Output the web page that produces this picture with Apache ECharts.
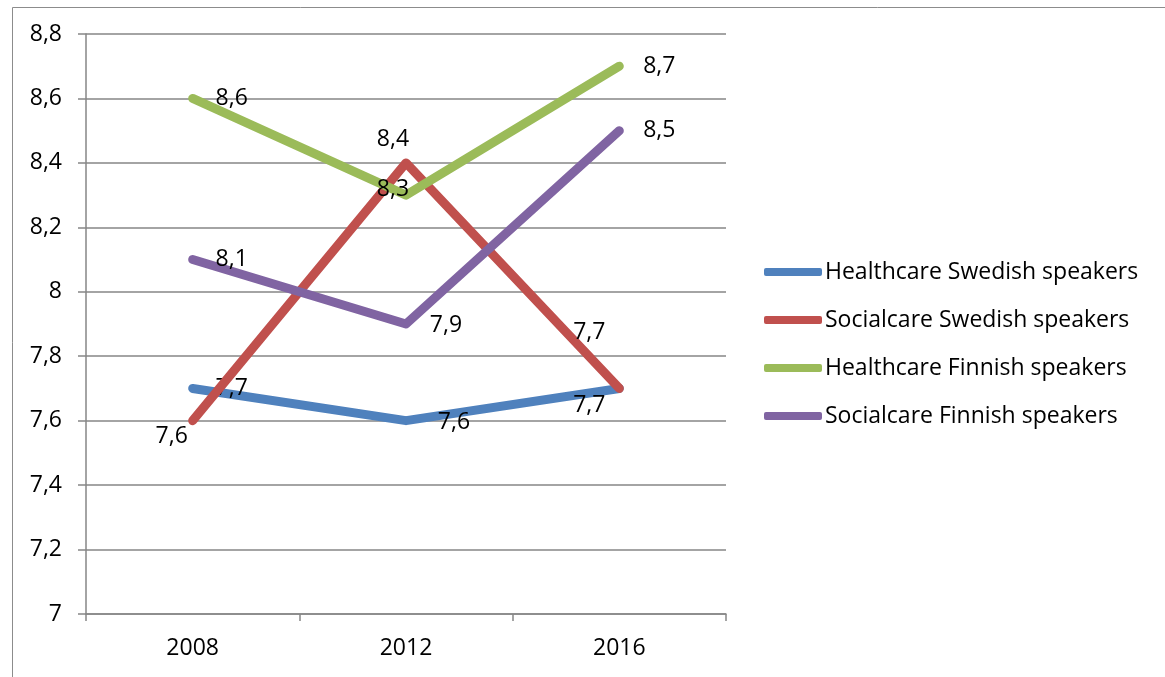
<!DOCTYPE html>
<html>
<head>
<meta charset="utf-8">
<script src="https://cdn.jsdelivr.net/npm/echarts@6/dist/echarts.min.js"></script>
<style>
  html, body { margin: 0; padding: 0; background: #fff; }
  #chart { width: 1165px; height: 677px; }
</style>
</head>
<body>
<div id="chart"></div>
<script>
// Survey scores by year and language group
const years = ['2008', '2012', '2016'];
const seriesNames = [
  'Healthcare Swedish speakers',
  'Socialcare Swedish speakers',
  'Healthcare Finnish speakers',
  'Socialcare Finnish speakers'
];
const healthcareSwedish = [7.7, 7.6, 7.7];
const socialcareSwedish = [7.6, 8.4, 7.7];
const healthcareFinnish = [8.6, 8.3, 8.7];
const socialcareFinnish = [8.1, 7.9, 8.5];
const seriesColors = ['#4F81BD', '#C0504D', '#9BBB59', '#8064A2'];

// Label placement (px) relative to each point, per series
const labelOffsets = [
  [[39, 0], [48, 2], [-30, 17]],
  [[-21, 16], [-13, -23], [-30, -56]],
  [[39, 0], [-13, -6], [40, 0]],
  [[39, 0], [40, 1], [40, 0]]
];

const FONT = '"Open Sans", sans-serif';
const FS = 23;
const fmt = v => String(parseFloat(Number(v).toFixed(1))).replace('.', ',');

const allValues = [healthcareSwedish, socialcareSwedish, healthcareFinnish, socialcareFinnish];

const series = allValues.map((vals, si) => ({
  name: seriesNames[si],
  type: 'line',
  symbol: 'circle',
  symbolSize: 1,
  showSymbol: true,
  itemStyle: { color: 'rgba(0,0,0,0)', borderWidth: 0 },
  lineStyle: { width: 9, color: seriesColors[si], cap: 'round', join: 'round' },
  z: 2 + si,
  data: vals.map((v, i) => ({
    value: v,
    label: {
      show: true,
      position: [labelOffsets[si][i][0] + 0.5, labelOffsets[si][i][1] + 0.5],
      align: 'center',
      verticalAlign: 'middle',
      formatter: p => fmt(p.value),
      color: '#000',
      fontSize: FS,
      fontFamily: FONT
    }
  })),
  labelLayout: { hideOverlap: false },
  emphasis: { disabled: true },
  animation: false
}));

const chart = echarts.init(document.getElementById('chart'), null, { renderer: 'canvas' });
chart.setOption({
  animation: false,
  backgroundColor: '#fff',
  textStyle: { fontFamily: FONT },
  graphic: [{
    type: 'rect',
    left: 10, top: 5,
    shape: { width: 1153, height: 700 },
    style: { fill: 'none', stroke: '#8c8c8c', lineWidth: 1 },
    silent: true
  }],
  grid: { left: 86, right: 439, top: 34, bottom: 63 },
  xAxis: {
    type: 'category',
    data: years,
    boundaryGap: true,
    axisLine: { lineStyle: { color: '#868686', width: 1.5 } },
    axisTick: { show: true, length: 7, inside: false, lineStyle: { color: '#868686', width: 1.5 } },
    axisLabel: { color: '#000', fontSize: FS, fontFamily: FONT, margin: 23 },
    splitLine: { show: false }
  },
  yAxis: {
    type: 'value',
    min: 7,
    max: 8.8,
    interval: 0.2,
    axisLine: { show: true, lineStyle: { color: '#868686', width: 1.5 } },
    axisTick: { show: true, length: 8, lineStyle: { color: '#868686', width: 1.5 } },
    axisLabel: { color: '#000', fontSize: FS, fontFamily: FONT, margin: 24, formatter: fmt },
    splitLine: { show: true, lineStyle: { color: '#868686', width: 1.5 } }
  },
  legend: {
    orient: 'vertical',
    left: 764,
    top: 258,
    padding: 0,
    itemWidth: 58,
    itemHeight: 8,
    itemGap: 20,
    icon: 'roundRect',
    selectedMode: false,
    data: seriesNames.map((n, i) => ({
      name: n,
      icon: 'roundRect',
      itemStyle: { color: seriesColors[i], opacity: 1, borderWidth: 0 }
    })),
    textStyle: { color: '#000', fontSize: FS, fontFamily: FONT, lineHeight: 28, padding: [0, 0, 0, -2] }
  },
  series: series
});
</script>
</body>
</html>
